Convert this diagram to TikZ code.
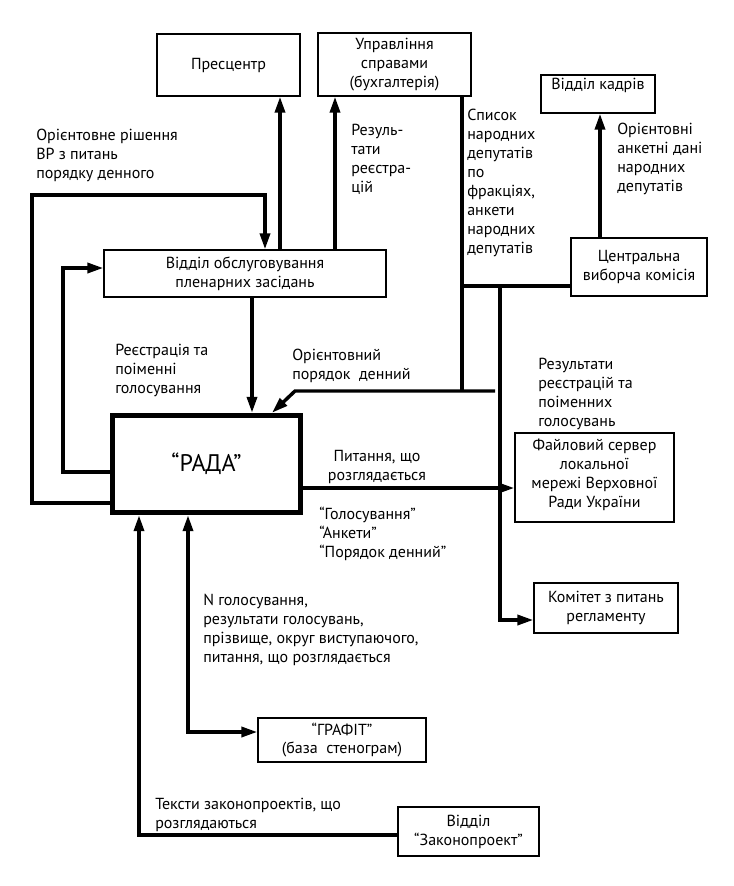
\documentclass[tikz,border=0pt]{standalone}
\usepackage{fontspec}
\setmainfont{PT Sans}
\usetikzlibrary{arrows.meta}
\begin{document}
\begin{tikzpicture}[x=0.75pt,y=-0.75pt,
  txt/.style={font=\fontsize{12}{14.2}\selectfont},
  box/.style={draw, line width=1pt, align=center, inner sep=2pt, txt},
  lbl/.style={anchor=north west, align=left, inner sep=0pt, txt},
  conn/.style={line width=2.6pt},
  tip/.tip={Triangle[length=12pt,width=7.5pt]},
  arr/.style={conn, -tip},
]
\useasboundingbox (0,0) rectangle (733,886);
\fill[white] (0,0) rectangle (733,886);

% boxes
\node[box, minimum width=107.25pt, minimum height=46.5pt] (pres) at (228.5,65) {Пресцентр};
\node[box, minimum width=114.75pt, minimum height=47.25pt] (upr) at (394.5,64.5) {Управління\\справами\\(бухгалтерія)};
\node[box, minimum width=85.5pt, minimum height=28.5pt, text height=8pt, text depth=15.5pt, inner ysep=1pt] (kadr) at (598,94) {Відділ кадрів};
\node[box, minimum width=102pt, minimum height=43.5pt] (cvk) at (639,267) {Центральна\\виборча комісія};
\node[box, minimum width=211.5pt, minimum height=35.25pt] (vid) at (245,273.5) {Відділ обслуговування\\пленарних засідань};
\node[draw, line width=3.8pt, minimum width=141pt, minimum height=73pt, font=\fontsize{18}{20}\selectfont] (rada) at (206.5,464) {“РАДА”};
\node[box, minimum width=119.25pt, minimum height=66.75pt, text depth=6pt] (fs) at (594.5,477.5) {Файловий сервер\\локальної\\мережі Верховної\\Ради України};
\node[box, minimum width=108pt, minimum height=37.5pt] (kom) at (606,608) {Комітет з питань\\регламенту};
\node[box, minimum width=126pt, minimum height=33pt] (graf) at (342,740) {“ГРАФІТ”\\(база\ \ стенограм)};
\node[box, minimum width=105.75pt, minimum height=36.75pt] (zak) at (468.5,831.5) {Відділ\\“Законопроект”};

% junction / free-end coordinates
\coordinate (trunk) at (462,391);
\coordinate (jcvk) at (462,286);
\coordinate (jv) at (500,286);
\coordinate (agEnd) at (495,391);

% connectors
\draw[arr] (280,0 |- vid.north) -- (280,0 |- pres.south);
\draw[arr] (335,0 |- vid.north) -- (335,0 |- upr.south);
\draw[arr] (0,503 -| rada.west) -- (32,503) -- (32,195) -- (265,195) -- (265,0 |- vid.north);
\draw[arr] (0,472 -| rada.west) -- (63,472) -- (63,268) -- (0,268 -| vid.west);
\draw[arr] (252,0 |- vid.south) -- (252,0 |- rada.north);
\draw[conn] (462,0 |- upr.south) -- (trunk);
\draw[conn] (0,286 -| cvk.west) -- (jcvk);
\draw[arr] (agEnd) -- (295,391) -- (272,0 |- rada.north);
\draw[arr] (jv) -- (500,620) -- (0,620 -| kom.west);
\draw[arr] (0,488 -| rada.east) -- (0,488 -| fs.west);
\draw[arr] (600,0 |- cvk.north) -- (600,0 |- kadr.south);
\draw[arr] (0,835 -| zak.west) -- (139,835) -- (139,0 |- rada.south);
\draw[conn, tip-tip] (188,0 |- rada.south) -- (188,732) -- (0,732 -| graf.west);

% labels
\node[lbl] (l1) at (36,129) {Орієнтовне рішення\\ВР з питань\\порядку денного};
\node[lbl] (l2) at (351,124) {Резуль-\\тати\\реєстра-\\цій};
\node[lbl] (l3) at (467,109) {Список\\народних\\депутатів\\по\\фракціях,\\анкети\\народних\\депутатів};
\node[lbl] (l4) at (617,123) {Орієнтовні\\анкетні дані\\народних\\депутатів};
\node[lbl] (l5) at (115,344) {Реєстрація та\\поіменні\\голосування};
\node[lbl] (l6) at (292,349) {Орієнтовний\\порядок\ \ денний};
\node[lbl] (l7) at (538,358) {Результати\\реєстрацій та\\поіменних\\голосувань};
\node[lbl, anchor=north, align=center] (l8) at (377,450) {Питання, що\\розглядається};
\node[lbl] (l9) at (319,507) {“Голосування”\\“Анкети”\\“Порядок денний”};
\node[lbl] (l10) at (203,594) {N голосування,\\результати голосувань,\\прізвище, округ виступаючого,\\питання, що розглядається};
\node[lbl] (l11) at (155,798) {Тексти законопроектів, що\\розглядаються};
\end{tikzpicture}
\end{document}
